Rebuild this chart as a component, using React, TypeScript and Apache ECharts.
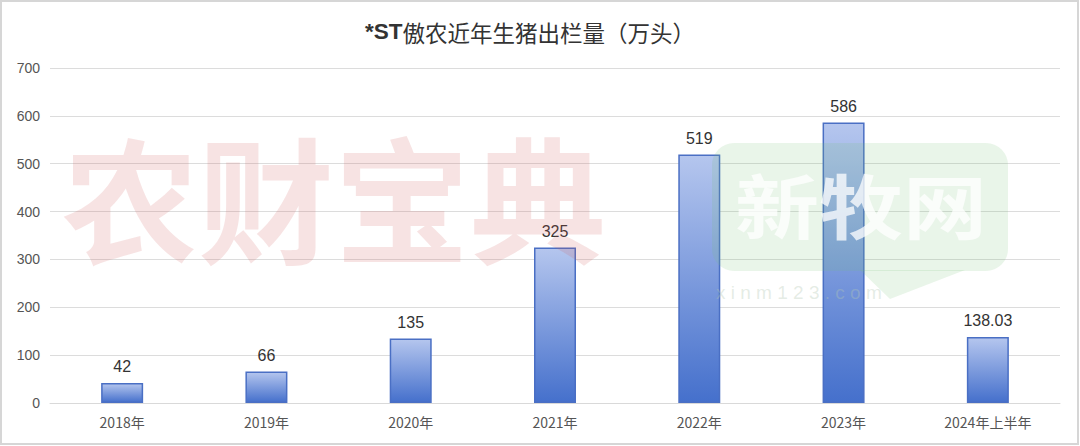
import React, { useEffect, useRef } from "react";
import * as echarts from "echarts";

const categories = ["2018年", "2019年", "2020年", "2021年", "2022年", "2023年", "2024年上半年"];
const values = [42, 66, 135, 325, 519, 586, 138.03];
const yTicks = [0, 100, 200, 300, 400, 500, 600, 700];
const titlePrefix = "*ST";
const titleRest = "傲农近年生猪出栏量（万头）";

export default function App() {
  const ref = useRef<HTMLDivElement>(null);
  useEffect(() => {
    document.body.style.margin = "0";
    const chart = echarts.init(ref.current!, null, { renderer: "svg" });
    chart.setOption({
      animation: false,
      backgroundColor: "#ffffff",
      title: {
        text: "{b|" + titlePrefix + "}{r|" + titleRest + "}",
        left: 360,
        top: 15,
        textStyle: {
          rich: {
            b: { fontSize: 22.5, fontWeight: "bold", color: "#333", fontFamily: "Liberation Sans" },
            r: { fontSize: 22.5, fontWeight: "normal", color: "#333", fontFamily: "Noto Sans CJK SC" },
          },
        },
      },
      grid: { left: 50, right: 20, top: 68, bottom: 43 },
      xAxis: {
        type: "category",
        data: categories,
        axisLine: { lineStyle: { color: "#d9d9d9" } },
        axisTick: { show: false },
        axisLabel: { color: "#555", fontSize: 14, margin: 12, fontFamily: "Noto Sans CJK SC" },
      },
      yAxis: {
        type: "value",
        min: yTicks[0],
        max: yTicks[yTicks.length - 1],
        interval: 100,
        axisLine: { show: false },
        axisTick: { show: false },
        splitLine: { lineStyle: { color: "#dcdcdc" } },
        axisLabel: { color: "#555", fontSize: 14, margin: 10, fontFamily: "Liberation Sans" },
      },
      series: [
        {
          type: "bar",
          data: values,
          barWidth: 42,
          itemStyle: {
            color: new echarts.graphic.LinearGradient(0, 0, 0, 1, [
              { offset: 0, color: "#b5c6ee" },
              { offset: 1, color: "#4570cc" },
            ]),
            borderColor: "#4a6fc4",
            borderWidth: 1.5,
          },
          label: {
            show: true,
            position: "top",
            distance: 8,
            color: "#333",
            fontSize: 16,
            fontFamily: "Liberation Sans",
          },
        },
      ],
      graphic: [
        {
          type: "text",
          left: 62,
          top: 126,
          z: 100,
          style: {
            text: "农财宝典",
            fontSize: 136,
            fontWeight: "bold",
            fontFamily: "Noto Sans CJK SC",
            fill: "rgba(210, 90, 90, 0.17)",
          },
        },
        {
          type: "rect",
          z: 100,
          shape: { x: 712, y: 143, width: 296, height: 128, r: 22 },
          style: { fill: "rgba(120, 190, 120, 0.16)" },
        },
        {
          type: "polygon",
          z: 100,
          shape: { points: [[860, 270], [965, 270], [890, 299]] },
          style: { fill: "rgba(120, 190, 120, 0.16)" },
        },
        {
          type: "text",
          x: 735,
          y: 168,
          scaleX: 1.2,
          z: 101,
          style: {
            text: "新牧网",
            fontSize: 70,
            fontWeight: "bold",
            fontFamily: "Noto Sans CJK SC",
            fill: "rgba(255, 255, 255, 0.75)",
          },
        },
        {
          type: "text",
          left: 716,
          top: 283,
          z: 101,
          style: {
            text: "x i n m 1 2 3 . c o m",
            fontSize: 19,
            fontFamily: "Liberation Sans",
            fill: "rgba(180, 200, 180, 0.35)",
          },
        },
        {
          type: "rect",
          z: 102,
          shape: { x: 1, y: 1, width: 1077, height: 443 },
          style: { fill: "none", stroke: "#d6d6d6", lineWidth: 2 },
        },
      ],
    });
    return () => chart.dispose();
  }, []);
  return <div ref={ref} style={{ position: "fixed", left: 0, top: 0, width: 1080, height: 446 }} />;
}
